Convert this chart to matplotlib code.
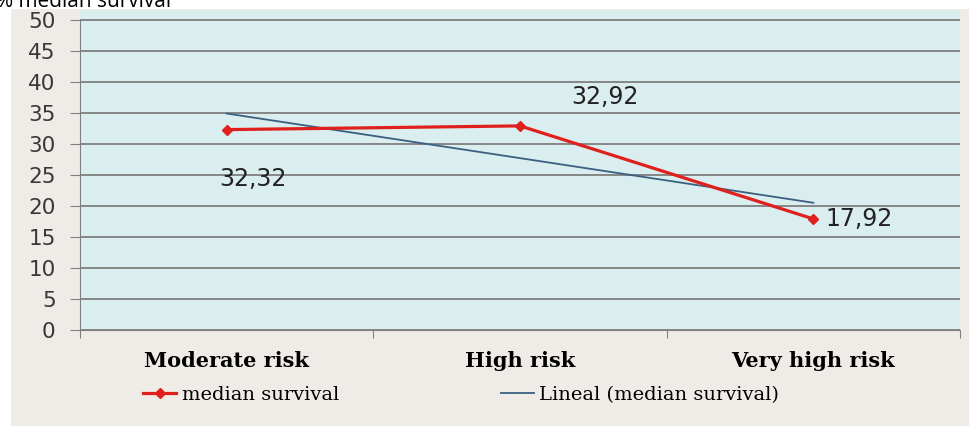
import numpy as np
import matplotlib.pyplot as plt
from matplotlib.patches import Rectangle

# datos
categorias = ["Moderate risk", "High risk", "Very high risk"]
supervivencia = [32.32, 32.92, 17.92]
etiquetas = ["32,32", "32,92", "17,92"]
yticks = [0, 5, 10, 15, 20, 25, 30, 35, 40, 45, 50]

fig = plt.figure(figsize=(9.7, 4.26), dpi=100)
fig.patch.set_facecolor("white")
# panel gris de fondo
fig.patches.append(Rectangle((11 / 970, 0), 1, 1 - 9 / 426, transform=fig.transFigure,
                             facecolor="#efece8", edgecolor="none", zorder=-5))
fig.text(-0.004, 1 - 7 / 426, "% median survival", fontsize=15, family="Open Sans",
         va="baseline", ha="left", color="black")

# eje: 0 en y=330 px, 50 en y=20 px, fondo azul hasta y=10 px
ax = fig.add_axes([80 / 970, 1 - 330 / 426, 880 / 970, 320 / 426])
ax.set_zorder(1)
ax.set_facecolor("#daedef")

x = np.arange(len(categorias)) + 0.5
ax.plot(x, supervivencia, color="#e0201c", lw=2.3, marker="D", ms=5.5,
        label="median survival", zorder=3)

# línea de tendencia lineal
p = np.polyfit(np.arange(1, 4), supervivencia, 1)
tend = np.polyval(p, np.arange(1, 4))
ax.plot(x, tend, color="#3b607f", lw=1.3, label="Lineal (median survival)", zorder=2)

# etiquetas de datos
pos = [(x[0] + 0.09, supervivencia[0] - 8.0, "center"),
       (x[1] + 0.29, supervivencia[1] + 4.6, "center"),
       (x[2] + 0.04, supervivencia[2], "left")]
for (xt, yt, ha), t in zip(pos, etiquetas):
    ax.text(xt, yt, t, fontsize=17, va="center", ha=ha, color="#222222")

ax.set_xlim(0, 3)
ax.set_ylim(0, 50 * 320 / 310)
ax.set_yticks(yticks)
ax.set_yticklabels([str(v) for v in yticks], fontsize=15.5, color="#383838")
ax.yaxis.grid(True, color="#7f7f7f", lw=1.3)
ax.set_axisbelow(True)

ax.set_xticks([0, 1, 2, 3])
ax.set_xticklabels([])
ax.set_xticks(x, minor=True)
ax.set_xticklabels(categorias, minor=True, fontsize=15, fontweight="bold", family="DejaVu Serif")
ax.tick_params(axis="x", which="minor", length=0, pad=15)
ax.tick_params(axis="x", which="major", length=6, color="#7f7f7f")
ax.tick_params(axis="y", length=7.5, color="#7f7f7f", pad=10)

for s in ["top", "right"]:
    ax.spines[s].set_visible(False)
ax.spines["left"].set_color("#7f7f7f")
ax.spines["left"].set_bounds(0, 50)
ax.spines["bottom"].set_color("#7f7f7f")

leg = fig.legend(loc="center left", bbox_to_anchor=(143 / 970, 31 / 426), ncol=2, frameon=False,
                 prop={"family": "DejaVu Serif", "size": 14}, columnspacing=8.3,
                 handlelength=1.7, handletextpad=0.3, borderpad=0, borderaxespad=0)
leg.set_zorder(2)

fig.savefig("out.png", dpi=100)
